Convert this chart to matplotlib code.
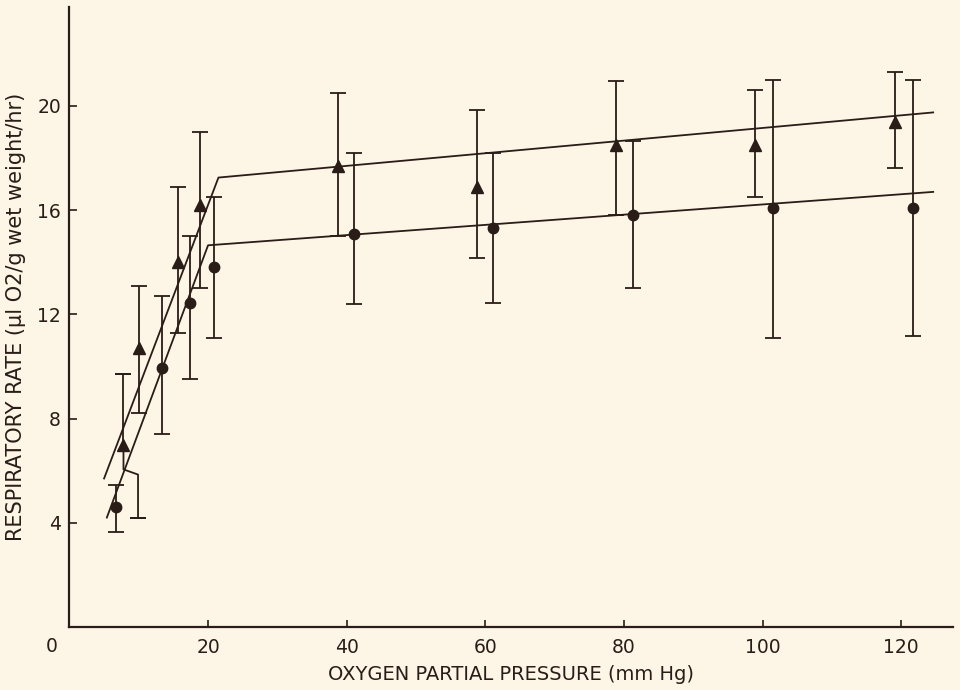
import matplotlib.pyplot as plt
import numpy as np

# triangles (upper series)
tri_x = [7.8, 10.0, 15.7, 18.8, 38.8, 58.8, 78.9, 98.9, 119.1]
tri_y = [7.0, 10.7, 14.0, 16.2, 17.7, 16.9, 18.5, 18.5, 19.4]
tri_lo = [4.2, 8.2, 11.3, 13.0, 15.0, 14.15, 15.8, 16.5, 17.6]
tri_hi = [9.7, 13.1, 16.9, 19.0, 20.5, 19.85, 20.95, 20.6, 21.3]

# circles (lower series)
circ_x = [6.7, 13.3, 17.4, 20.9, 41.1, 61.1, 81.3, 101.5, 121.7]
circ_y = [4.6, 9.95, 12.45, 13.8, 15.1, 15.3, 15.8, 16.1, 16.1]
circ_lo = [3.65, 7.4, 9.5, 11.1, 12.4, 12.45, 13.0, 11.1, 11.15]
circ_hi = [5.45, 12.7, 15.0, 16.5, 18.2, 18.2, 18.65, 21.0, 21.0]

# fitted broken lines
upper_line_x = [5.0, 21.5, 124.6]
upper_line_y = [5.7, 17.25, 19.75]
lower_line_x = [5.4, 20.0, 124.6]
lower_line_y = [4.2, 14.65, 16.7]

xticks = [20, 40, 60, 80, 100, 120]
yticks = [4, 8, 12, 16, 20]

ink = '#2a1c16'
bg = '#fdf6e7'
lw = 1.3
cap = 6

fig = plt.figure(figsize=(9.6, 6.9), dpi=100, facecolor=bg)
ax = fig.add_axes([0.0723, 0.0913, 0.9207, 0.8987], facecolor=bg)

ax.plot(upper_line_x, upper_line_y, color=ink, lw=lw)
ax.plot(lower_line_x, lower_line_y, color=ink, lw=lw)

# circles with error bars
c_err = [np.array(circ_y) - np.array(circ_lo), np.array(circ_hi) - np.array(circ_y)]
ax.errorbar(circ_x, circ_y, yerr=c_err, fmt='o', color=ink, ms=7.5,
            ecolor=ink, elinewidth=lw, capsize=cap, capthick=lw)

# triangles: bars for all but the first point
t_err = [np.array(tri_y[1:]) - np.array(tri_lo[1:]), np.array(tri_hi[1:]) - np.array(tri_y[1:])]
ax.errorbar(tri_x[1:], tri_y[1:], yerr=t_err, fmt='^', color=ink, ms=9,
            ecolor=ink, elinewidth=lw, capsize=cap, capthick=lw)

# first triangle: upper bar normal, lower bar jogged to the right
ax.errorbar([tri_x[0]], [tri_y[0]], yerr=[[0], [tri_hi[0] - tri_y[0]]], fmt='^',
            color=ink, ms=9, ecolor=ink, elinewidth=lw, capsize=0)
ax.errorbar([tri_x[0]], [tri_hi[0]], yerr=[[0], [0]], fmt='none',
            ecolor=ink, capsize=cap, capthick=lw)
jog_dx, jog_top, jog_bot = 2.1, 6.05, 5.85
ax.plot([tri_x[0], tri_x[0], tri_x[0] + jog_dx, tri_x[0] + jog_dx],
        [tri_y[0], jog_top, jog_bot, tri_lo[0]], color=ink, lw=lw)
ax.errorbar([tri_x[0] + jog_dx], [tri_lo[0]], yerr=[[0], [0]], fmt='none',
            ecolor=ink, capsize=cap, capthick=lw)

ax.set_xlim(0, 127.5)
ax.set_ylim(0, 23.8)
for s in ['top', 'right']:
    ax.spines[s].set_visible(False)
for s in ['left', 'bottom']:
    ax.spines[s].set_color(ink)
    ax.spines[s].set_linewidth(1.6)

ax.set_xticks(xticks)
ax.set_yticks(yticks)
ax.tick_params(axis='x', direction='in', length=5, width=1.2, color=ink,
               labelsize=13.5, pad=8, labelcolor=ink)
ax.tick_params(axis='y', direction='in', length=6, width=1.2, color=ink,
               labelsize=13.5, pad=6, labelcolor=ink)
ax.text(-2.5, -0.75, '0', ha='center', va='center', fontsize=13.5,
        color=ink, clip_on=False)

ax.set_xlabel('OXYGEN PARTIAL PRESSURE (mm Hg)', fontsize=14, color=ink, labelpad=6)
ax.set_ylabel('RESPIRATORY RATE (\u00b5l O2/g wet weight/hr)', fontsize=15,
              color=ink, labelpad=8)

fig.savefig('out.png', dpi=100, facecolor=bg)
